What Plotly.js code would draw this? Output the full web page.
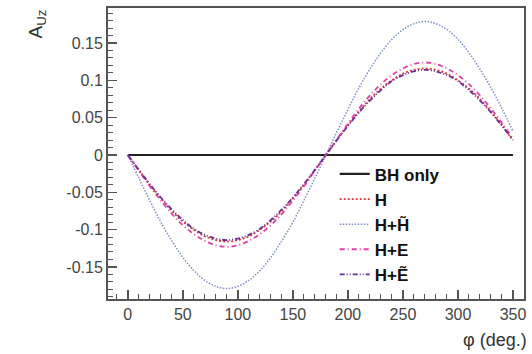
<!DOCTYPE html>
<html>
<head>
<meta charset="utf-8">
<script src="https://cdn.plot.ly/plotly-3.0.1.min.js"></script>
<style>html,body{margin:0;padding:0;background:#fff;}#chart{width:532px;height:354px;}</style>
</head>
<body>
<div id="chart"></div>
<script>
const phi = [0,10,20,30,40,50,60,70,80,90,100,110,120,130,140,150,160,170,180,190,200,210,220,230,240,250,260,270,280,290,300,310,320,330,340,350];
const bhOnly = [0,0,0,0,0,0,0,0,0,0,0,0,0,0,0,0,0,0,0,0,0,0,0,0,0,0,0,0,0,0,0,0,0,0,0,0];
const hOnly = [0,-0.020,-0.040,-0.058,-0.075,-0.089,-0.100,-0.109,-0.114,-0.116,-0.114,-0.109,-0.100,-0.089,-0.075,-0.058,-0.040,-0.020,0,0.020,0.040,0.058,0.075,0.089,0.100,0.109,0.114,0.116,0.114,0.109,0.100,0.089,0.075,0.058,0.040,0.020];
const hHt = [0,-0.031,-0.061,-0.090,-0.115,-0.137,-0.155,-0.168,-0.176,-0.179,-0.176,-0.168,-0.155,-0.137,-0.115,-0.090,-0.061,-0.031,0,0.031,0.061,0.090,0.115,0.137,0.155,0.168,0.176,0.179,0.176,0.168,0.155,0.137,0.115,0.090,0.062,0.032];
const hE = [0,-0.021,-0.042,-0.061,-0.079,-0.094,-0.106,-0.115,-0.121,-0.123,-0.121,-0.115,-0.106,-0.094,-0.079,-0.061,-0.042,-0.021,0,0.021,0.042,0.062,0.080,0.095,0.107,0.116,0.122,0.124,0.122,0.116,0.107,0.095,0.080,0.062,0.043,0.022];
const hEt = [0,-0.020,-0.039,-0.057,-0.073,-0.087,-0.099,-0.107,-0.112,-0.114,-0.112,-0.107,-0.099,-0.087,-0.073,-0.057,-0.039,-0.020,0,0.020,0.039,0.057,0.073,0.087,0.099,0.107,0.112,0.114,0.112,0.107,0.099,0.087,0.073,0.057,0.039,0.020];
const seriesNames = ["BH only","H","H+H\u0303","H+E","H+E\u0303"];
const xTickVals = [0,50,100,150,200,250,300,350];
const yTickVals = [-0.15,-0.1,-0.05,0,0.05,0.1,0.15];
const yTickText = ["-0.15","-0.1","-0.05","0","0.05","0.1","0.15"];

const traces = [
  {x: phi, y: bhOnly, name: seriesNames[0], line: {color: '#222222', width: 2.2}},
  {x: phi, y: hOnly, name: seriesNames[1], line: {color: '#d43a3a', width: 1.8, dash: '2px,2px', shape: 'spline'}},
  {x: phi, y: hHt, name: seriesNames[2], line: {color: '#7f8fcc', width: 1.5, dash: '1.5px,1.5px', shape: 'spline'}},
  {x: phi, y: hE, name: seriesNames[3], line: {color: '#e040a8', width: 1.8, dash: '5px,3px,1px,3px', shape: 'spline'}},
  {x: phi, y: hEt, name: seriesNames[4], line: {color: '#6a2f9a', width: 1.8, dash: '5px,2px,1px,2px,1px,2px', shape: 'spline'}}
].map(t => Object.assign({type: 'scatter', mode: 'lines'}, t));

const axisCommon = {
  showgrid: false, zeroline: false, showline: true, linecolor: '#555', linewidth: 2,
  mirror: true, ticks: 'inside', ticklen: 9, tickwidth: 1.5, tickcolor: '#555',
  tickfont: {family: 'Liberation Sans, Arial, sans-serif', size: 16, color: '#444'}
};

const layout = {
  width: 532, height: 354,
  margin: {l: 108, r: 8, t: 8, b: 55},
  paper_bgcolor: '#fff', plot_bgcolor: '#fff',
  showlegend: true,
  legend: {x: 0.545, y: 0.49, xanchor: 'left', yanchor: 'top', bgcolor: 'rgba(0,0,0,0)',
    font: {family: 'Liberation Sans, Arial, sans-serif', size: 17, color: '#111', weight: 'bold'},
    tracegroupgap: 0, itemwidth: 30},
  xaxis: Object.assign({}, axisCommon, {range: [-18, 360], tickvals: xTickVals,
    minor: {dtick: 10, ticklen: 5, tickwidth: 1, tickcolor: '#555', ticks: 'inside'}}),
  yaxis: Object.assign({}, axisCommon, {range: [-0.193, 0.197], tickvals: yTickVals, ticktext: yTickText,
    minor: {dtick: 0.01, tick0: 0, ticklen: 5, tickwidth: 1, tickcolor: '#555', ticks: 'inside'}}),
  annotations: [
    {text: '\u03c6 (deg.)', xref: 'paper', yref: 'paper', x: 1.012, y: -0.141, xanchor: 'right', yanchor: 'middle',
     showarrow: false, font: {family: 'Liberation Sans, Arial, sans-serif', size: 18, color: '#333'}},
    {text: 'A<sub>Uz</sub>', xref: 'paper', yref: 'paper', x: -0.173, y: 1.0, xanchor: 'center', yanchor: 'top',
     textangle: -90, showarrow: false, font: {family: 'Liberation Sans, Arial, sans-serif', size: 19, color: '#333'}}
  ]
};

Plotly.newPlot('chart', traces, layout, {displayModeBar: false, staticPlot: true});
</script>
</body>
</html>
